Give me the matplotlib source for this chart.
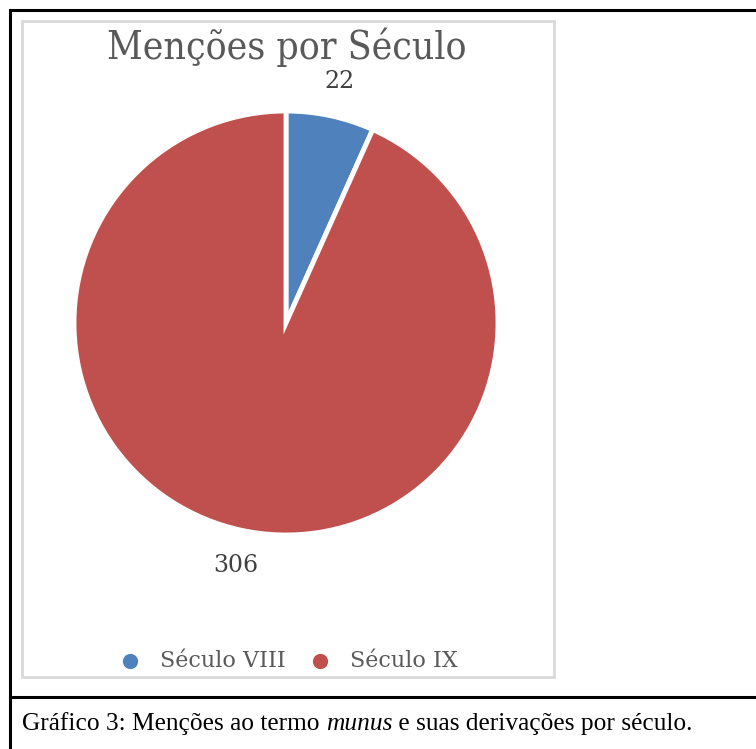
import matplotlib
matplotlib.use("Agg")
import matplotlib.pyplot as plt
from matplotlib.patches import Rectangle
from matplotlib.lines import Line2D

categories = ["Século VIII", "Século IX"]
values = [22, 306]
colors = ["#4F81BD", "#C0504D"]
title = "Menções por Século"
caption_parts = [("Gráfico 3: Menções ao termo ", "normal"), ("munus", "italic"),
                 (" e suas derivações por século.", "normal")]

W, H = 756, 749
fig = plt.figure(figsize=(W / 100, H / 100), dpi=100)
fig.patch.set_facecolor("white")

def fx(x):
    return x / W

def fy(y):
    return 1 - y / H

# outer black frame
fig.add_artist(Rectangle((fx(10), fy(760)), fx(760) - fx(10), fy(10) - fy(760),
                         transform=fig.transFigure, fill=False, edgecolor="black", linewidth=2.2))
fig.add_artist(Line2D([fx(10), fx(760)], [fy(697), fy(697)], transform=fig.transFigure,
                      color="black", linewidth=2.2))
# chart area gray border
fig.add_artist(Rectangle((fx(22), fy(677)), fx(554) - fx(22), fy(21) - fy(677),
                         transform=fig.transFigure, fill=False, edgecolor="#D9D9D9", linewidth=2))

cx, cy, r = 286, 323, 212
ax = fig.add_axes([fx(cx - r), fy(cy + r), (2 * r) / W, (2 * r) / H])
wedges, _ = ax.pie(values, colors=colors, startangle=90, counterclock=False,
                   wedgeprops=dict(edgecolor="white", linewidth=3.5))
ax.set_xlim(-1, 1)
ax.set_ylim(-1, 1)
ax.set_aspect("equal")
ax.axis("off")

serif = ["DejaVu Serif"]
fig.text(fx(287), fy(47), title, ha="center", va="center", fontsize=28,
         color="#595959", family=serif, stretch="condensed")
fig.text(fx(340), fy(82), str(values[0]), ha="center", va="center", fontsize=17,
         color="#404040", family=serif)
fig.text(fx(236), fy(566), str(values[1]), ha="center", va="center", fontsize=17,
         color="#404040", family=serif)

# legend
leg_items = [(130, 160), (320, 350)]
for (mx, tx), lab, c in zip(leg_items, categories, colors):
    fig.add_artist(Line2D([fx(mx)], [fy(661)], transform=fig.transFigure, marker="o",
                          markersize=12, color=c, markeredgecolor="white", linestyle="none"))
    fig.text(fx(tx), fy(661), lab, ha="left", va="center", fontsize=16,
             color="#595959", family=serif)

# caption with italic word
renderer = fig.canvas.get_renderer()
x = 22
for txt, style in caption_parts:
    t = fig.text(fx(x), fy(724), txt, ha="left", va="center", fontsize=18.3,
                 style=style, family=["Liberation Serif"], color="black")
    bb = t.get_window_extent(renderer=renderer)
    x += bb.width

fig.savefig("out.png", dpi=100, facecolor="white")
